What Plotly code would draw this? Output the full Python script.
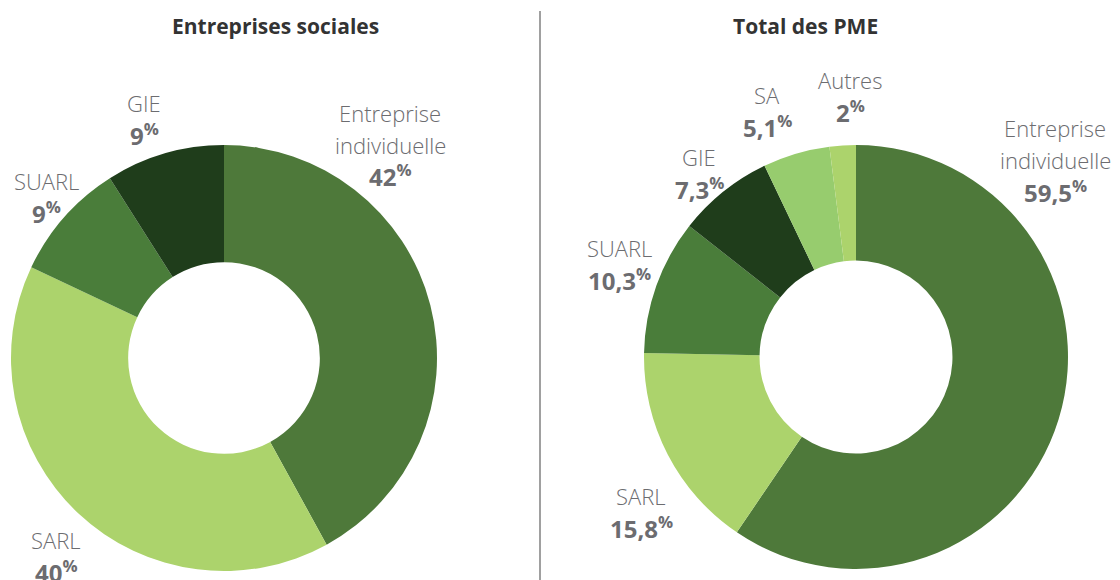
import plotly.graph_objects as go

W, H = 1120, 580

# ---- data ----
titles = ["Entreprises sociales", "Total des PME"]

soc_labels = ["Entreprise<br>individuelle", "SARL", "SUARL", "GIE"]
soc_values = [42, 40, 9, 9]

pme_labels = ["Entreprise<br>individuelle", "SARL", "SUARL", "GIE", "SA", "Autres"]
pme_values = [59.5, 15.8, 10.3, 7.3, 5.1, 2]

# ---- styles ----
col = {"Entreprise<br>individuelle": "#4e793a", "SARL": "#acd36c", "SUARL": "#4a7d3a",
       "GIE": "#1f3d1b", "SA": "#97cc6e", "Autres": "#acd36c"}

# label anchor positions in pixels (center x, center y of first line)
soc_pos = [(390, 113), (56, 540), (46, 181), (144, 103)]
pme_pos = [(1055, 128), (641, 496), (619, 248), (699, 157), (767, 95), (850, 80)]

FONT = "Open Sans"
GRAY = "#6c6c70"
LINE = 31.5


def fmt(v):
    return f"{v:g}".replace(".", ",")


def px_dom(cx, cy, r):
    return dict(x=[(cx - r) / W, (cx + r) / W], y=[(H - cy - r) / H, (H - cy + r) / H])


fig = go.Figure()
fig.add_trace(go.Pie(labels=soc_labels, values=soc_values, sort=False, direction="clockwise",
                     rotation=0, hole=0.45, textinfo="none", hoverinfo="label+value",
                     marker=dict(colors=[col[l] for l in soc_labels], line=dict(width=0)),
                     domain=px_dom(224, 358, 213), showlegend=False))
fig.add_trace(go.Pie(labels=pme_labels, values=pme_values, sort=False, direction="clockwise",
                     rotation=0, hole=0.455, textinfo="none", hoverinfo="label+value",
                     marker=dict(colors=[col[l] for l in pme_labels], line=dict(width=0)),
                     domain=px_dom(856, 357, 212), showlegend=False))

ann = []


def add_labels(labels, values, pos):
    for lab, v, (x, y) in zip(labels, values, pos):
        lines = lab.split("<br>")
        for i, ln in enumerate(lines):
            ann.append(dict(x=x / W, y=1 - (y + i * LINE) / H, xref="paper", yref="paper",
                            text=ln, showarrow=False, xanchor="center", yanchor="middle",
                            font=dict(family=FONT, size=22, color=GRAY, weight=300)))
        yy = y + len(lines) * LINE
        ann.append(dict(x=x / W, y=1 - yy / H, xref="paper", yref="paper",
                        text=f"<b>{fmt(v)}</b><sup><b>%</b></sup>", showarrow=False,
                        xanchor="center", yanchor="middle",
                        font=dict(family=FONT, size=24, color=GRAY)))


add_labels(soc_labels, soc_values, soc_pos)
add_labels(pme_labels, pme_values, pme_pos)

for t, x in zip(titles, [275, 805]):
    ann.append(dict(x=x / W, y=1 - 26 / H, xref="paper", yref="paper", text=f"<b>{t}</b>",
                    showarrow=False, xanchor="center", yanchor="middle",
                    font=dict(family=FONT, size=21, color="#333333")))

fig.update_layout(
    width=W, height=H, margin=dict(l=0, r=0, t=0, b=0),
    paper_bgcolor="white", plot_bgcolor="white",
    annotations=ann,
    shapes=[dict(type="line", xref="paper", yref="paper", x0=540 / W, x1=540 / W,
                 y0=0, y1=1 - 11 / H, line=dict(color="#a0a0a0", width=2))],
)

fig.write_html("out.html", config={"displayModeBar": False},
               post_script="document.body.style.margin='0';document.body.style.overflow='hidden';")
